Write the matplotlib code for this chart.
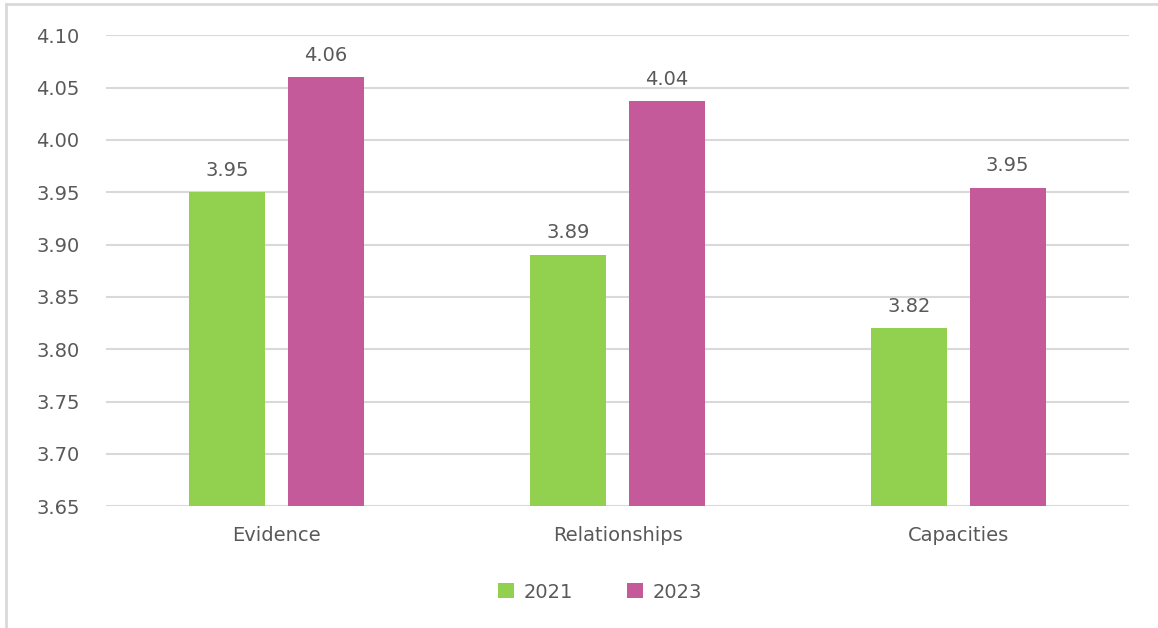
import numpy as np
import matplotlib.pyplot as plt
from matplotlib.lines import Line2D

plt.rcParams['font.family'] = ['DejaVu Sans']

categories = ['Evidence', 'Relationships', 'Capacities']
vals_2021 = [3.95, 3.89, 3.82]
vals_2023 = [4.06, 4.037, 3.954]
series_names = ['2021', '2023']
yticks = [3.65, 3.70, 3.75, 3.80, 3.85, 3.90, 3.95, 4.00, 4.05, 4.10]

green = '#92d050'
pink = '#c55a9b'
text_col = '#595959'
grid_col = '#d9d9d9'
fs = 14

fig = plt.figure(figsize=(11.58, 6.28), dpi=100)
ax = fig.add_axes([0.0915, 0.194, 0.8835, 0.75])

# light frame edges (top and left only are visible)
fx, fy = 6 / 1158, 1 - 4 / 628
fig.add_artist(Line2D([fx, 1.0], [fy, fy], transform=fig.transFigure, color=grid_col, lw=2))
fig.add_artist(Line2D([fx, fx], [0.0, fy], transform=fig.transFigure, color=grid_col, lw=2))

x = np.arange(len(categories))
w = 0.223
off = 0.144
b1 = ax.bar(x - off, np.array(vals_2021) - 3.65, w, bottom=3.65, color=green, label=series_names[0], zorder=3)
b2 = ax.bar(x + off, np.array(vals_2023) - 3.65, w, bottom=3.65, color=pink, label=series_names[1], zorder=3)

for bars, vals in [(b1, vals_2021), (b2, vals_2023)]:
    for r, v in zip(bars, vals):
        ax.annotate('%.2f' % v, (r.get_x() + r.get_width() / 2, v), xytext=(0, 9),
                    textcoords='offset points', ha='center', va='bottom',
                    fontsize=fs, color=text_col)

ax.set_xlim(-0.5, 2.5)
ax.set_ylim(3.65, 4.10)
ax.set_yticks(yticks)
ax.set_yticklabels(['%.2f' % t for t in yticks])
ax.set_xticks(x)
ax.set_xticklabels(categories)
ax.tick_params(axis='y', length=0, pad=19, labelsize=fs, labelcolor=text_col)
ax.tick_params(axis='x', length=0, pad=14, labelsize=fs, labelcolor=text_col)
ax.grid(axis='y', color=grid_col, linewidth=1.5, zorder=0)
for s in ax.spines.values():
    s.set_visible(False)

leg = fig.legend(loc='center', bbox_to_anchor=(0.518, 1 - 592 / 628), ncol=2, frameon=False,
                 fontsize=fs, handlelength=0.8, handleheight=0.8, handletextpad=0.5,
                 columnspacing=2.8)
for t in leg.get_texts():
    t.set_color(text_col)

fig.savefig('out.png', dpi=100)
